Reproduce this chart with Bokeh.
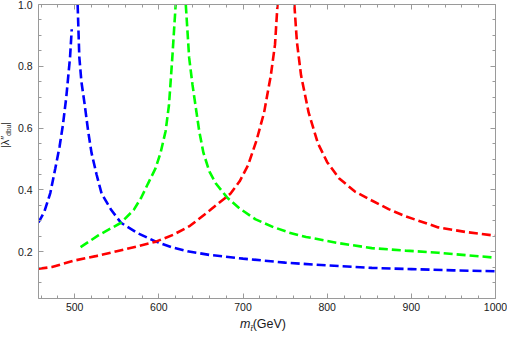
from bokeh.plotting import figure
from bokeh.models import LinearAxis, FixedTicker, PrintfTickFormatter, Range1d, Div
from bokeh.layouts import row, column
from bokeh.embed import file_html
from bokeh.resources import INLINE

# ---- data ----
blue_left_m = [457, 464, 471, 477, 482, 486, 490, 494.5, 496.5]
blue_left_l = [0.295, 0.33, 0.39, 0.47, 0.54, 0.61, 0.70, 0.83, 0.92]
blue_right_m = [503.5, 505.5, 508, 512, 516, 520, 526, 532, 543.5, 555, 575, 596.5, 615, 634, 660, 700, 750, 800, 853, 900, 950, 1000]
blue_right_l = [1.0, 0.83, 0.75, 0.674, 0.59, 0.52, 0.45, 0.388, 0.335, 0.294, 0.26, 0.233, 0.215, 0.202, 0.19, 0.178, 0.165, 0.156, 0.148, 0.144, 0.14, 0.137]

green_left_m = [507, 528, 555, 570, 579, 587, 596, 602, 608, 612, 616, 620]
green_left_l = [0.215, 0.253, 0.294, 0.335, 0.375, 0.42, 0.47, 0.52, 0.59, 0.674, 0.828, 1.0]
green_right_m = [632, 636, 640, 643.5, 648, 653, 660, 668, 681, 696, 715, 736, 755, 775, 814, 853, 893, 932, 1000]
green_right_l = [1.0, 0.828, 0.74, 0.674, 0.59, 0.52, 0.46, 0.42, 0.376, 0.34, 0.305, 0.28, 0.262, 0.248, 0.228, 0.212, 0.204, 0.197, 0.181]

red_left_m = [457, 473, 500, 525, 550, 575, 596.5, 617, 637, 661, 685, 696, 706, 716, 725, 733, 738, 741]
red_left_l = [0.145, 0.151, 0.172, 0.186, 0.202, 0.218, 0.233, 0.255, 0.284, 0.335, 0.388, 0.428, 0.48, 0.56, 0.65, 0.77, 0.87, 1.0]
red_right_m = [761, 764, 769, 778, 789, 800, 814, 833, 853, 873, 893, 932, 965, 1000]
red_right_l = [1.0, 0.88, 0.77, 0.65, 0.551, 0.49, 0.438, 0.395, 0.366, 0.338, 0.315, 0.279, 0.264, 0.252]

x_major = [500, 600, 700, 800, 900, 1000]
x_minor = [460, 480, 520, 540, 560, 580, 620, 640, 660, 680, 720, 740, 760, 780,
           820, 840, 860, 880, 920, 940, 960, 980]
y_major = [0.2, 0.4, 0.6, 0.8, 1.0]
y_minor = [0.05, 0.1, 0.15, 0.25, 0.3, 0.35, 0.45, 0.5, 0.55, 0.65, 0.7, 0.75, 0.85, 0.9, 0.95]

FONT = "Liberation Sans"
AX = "#9a9a9a"

p = figure(width=493, height=315, x_range=Range1d(457, 1000), y_range=Range1d(0.049, 1.0),
           output_backend="svg", toolbar_location=None)
p.min_border_left = 24
p.min_border_right = 12
p.min_border_top = 4
p.min_border_bottom = 17
p.outline_line_color = None
p.grid.visible = False


def style(ax, ticks, minor, fmt, show):
    ax.ticker = FixedTicker(ticks=ticks, minor_ticks=minor)
    ax.axis_line_color = AX
    ax.major_tick_line_color = AX
    ax.minor_tick_line_color = AX
    ax.major_tick_in = 5
    ax.major_tick_out = 0
    ax.minor_tick_in = 3
    ax.minor_tick_out = 0
    ax.formatter = PrintfTickFormatter(format=fmt)
    if show:
        ax.major_label_text_font = FONT
        ax.major_label_text_font_size = "10.5px"
        ax.major_label_text_color = "#1a1a1a"
    else:
        ax.major_label_text_font_size = "0px"
        ax.major_label_text_color = None
        ax.major_label_standoff = 0


style(p.xaxis[0], x_major, x_minor, "%d", True)
p.xaxis[0].major_label_standoff = 4
style(p.yaxis[0], y_major, y_minor, "%.1f", True)
p.yaxis[0].major_label_standoff = 6

top = LinearAxis()
style(top, x_major, x_minor, "%d", False)
p.add_layout(top, "above")
right = LinearAxis()
style(right, y_major, y_minor, "%.1f", False)
p.add_layout(right, "right")

DASH = "9 4"
LW = 2.6
p.line(blue_left_m, blue_left_l, line_color="#0000ff", line_width=LW, line_dash=DASH)
p.line(blue_right_m, blue_right_l, line_color="#0000ff", line_width=LW, line_dash=DASH)
p.line(green_left_m, green_left_l, line_color="#00ff00", line_width=LW, line_dash=DASH)
p.line(green_right_m, green_right_l, line_color="#00ff00", line_width=LW, line_dash=DASH)
p.line(red_left_m, red_left_l, line_color="#ff0000", line_width=LW, line_dash=DASH)
p.line(red_right_m, red_right_l, line_color="#ff0000", line_width=LW, line_dash=DASH)

ylab = Div(width=14, height=315, margin=0, text=(
    "<div style=\"position:relative;width:14px;height:315px;\">"
    "<div style=\"position:absolute;left:5px;top:135px;transform:translate(-50%,-50%) rotate(-90deg);"
    "white-space:nowrap;font-family:'Liberation Sans';font-size:11px;color:#1a1a1a;line-height:1;\">"
    "|\u03bb\u2033<span style=\"font-size:6.5px;position:relative;top:2px;\">dbu</span>|</div></div>"))

xlab = Div(width=507, height=18, margin=0, text=(
    "<div style=\"position:relative;width:507px;height:18px;\">"
    "<div style=\"position:absolute;left:240px;top:3px;white-space:nowrap;"
    "font-family:'Liberation Sans';font-size:12.5px;color:#1a1a1a;line-height:1;\">"
    "<i>m</i><span style=\"font-size:8px;font-style:italic;position:relative;top:3px;\">t\u0303</span>(GeV)</div></div>"))

layout = column(row(ylab, p, spacing=0), xlab, spacing=0)
open("out.html", "w").write(file_html(layout, INLINE))
